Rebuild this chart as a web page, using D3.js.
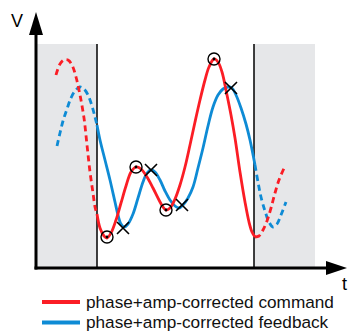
<!DOCTYPE html>
<html lang="en">
<head>
<meta charset="utf-8">
<title>phase+amp-corrected command / feedback</title>
<script src="https://cdn.jsdelivr.net/npm/d3@7"></script>
<style>
  html, body { margin: 0; padding: 0; background: #fff; }
  svg { display: block; font-family: "Liberation Sans", Arial, Helvetica, sans-serif; }
</style>
</head>
<body>
<div id="chart"></div>
<script>
// time (s) and voltage (V)
var redBefore = [[0.20,1.93],[0.24,2.04],[0.28,2.08],[0.32,2.08],[0.36,2.03],[0.40,1.91],[0.44,1.73],[0.48,1.50],[0.51,1.23],[0.54,0.96],[0.57,0.75],[0.59,0.61],[0.61,0.54]];
var redMain = [[0.61,0.54],[0.64,0.40],[0.68,0.32],[0.71,0.30],[0.75,0.35],[0.80,0.48],[0.85,0.65],[0.90,0.82],[0.95,0.96],[1.00,1.01],[1.05,0.99],[1.11,0.91],[1.17,0.80],[1.23,0.68],[1.27,0.61],[1.30,0.58],[1.34,0.60],[1.39,0.69],[1.44,0.83],[1.49,1.01],[1.54,1.23],[1.59,1.46],[1.64,1.68],[1.69,1.88],[1.73,2.01],[1.78,2.09],[1.82,2.06],[1.86,1.96],[1.91,1.73],[1.95,1.53],[1.99,1.30],[2.04,0.96],[2.09,0.66],[2.13,0.46],[2.16,0.36],[2.19,0.31]];
var redAfter = [[2.19,0.31],[2.23,0.32],[2.27,0.38],[2.31,0.47],[2.35,0.60],[2.39,0.75],[2.43,0.88],[2.49,1.02]];

var blueBefore = [[0.21,1.22],[0.24,1.35],[0.27,1.47],[0.31,1.59],[0.35,1.70],[0.39,1.77],[0.44,1.81],[0.48,1.79],[0.52,1.73],[0.56,1.62],[0.59,1.51],[0.61,1.43]];
var blueMain = [[0.61,1.43],[0.64,1.28],[0.69,1.08],[0.74,0.88],[0.79,0.66],[0.82,0.53],[0.85,0.44],[0.88,0.41],[0.92,0.44],[0.97,0.54],[1.02,0.70],[1.07,0.86],[1.11,0.95],[1.15,0.98],[1.19,0.96],[1.24,0.88],[1.29,0.77],[1.34,0.68],[1.39,0.62],[1.43,0.60],[1.47,0.63],[1.52,0.70],[1.57,0.81],[1.62,1.00],[1.67,1.20],[1.72,1.42],[1.77,1.61],[1.82,1.73],[1.87,1.79],[1.92,1.81],[1.96,1.80],[2.00,1.73],[2.05,1.60],[2.10,1.44],[2.14,1.28],[2.19,1.03]];
var blueAfter = [[2.19,1.03],[2.22,0.86],[2.25,0.71],[2.29,0.57],[2.33,0.46],[2.37,0.41],[2.41,0.44],[2.45,0.53],[2.50,0.66]];

var commandPeaks = [[0.71,0.31],[1.00,1.01],[1.30,0.58],[1.78,2.09]];
var feedbackPeaks = [[0.87,0.40],[1.15,0.98],[1.46,0.63],[1.95,1.80]];

var shaded = [[0, 0.61], [2.18, 2.79]];
var shadeTop = 2.24;
var legendLabels = ["phase+amp-corrected command", "phase+amp-corrected feedback"];

var W = 348, H = 333;
var red = "#fb1d25", blue = "#0e8bd5";

var x = d3.scaleLinear().domain([0, 3.11]).range([36, 347]);
var y = d3.scaleLinear().domain([0, 2.56]).range([268, 12]);

var svg = d3.select("#chart").append("svg")
  .attr("width", W).attr("height", H);

// grey regions outside the window
svg.selectAll("rect.shade").data(shaded).enter().append("rect")
  .attr("class", "shade")
  .attr("x", d => x(d[0]))
  .attr("y", y(shadeTop))
  .attr("width", d => x(d[1]) - x(d[0]))
  .attr("height", y(0) - y(shadeTop))
  .attr("fill", "#e6e7e9");

svg.selectAll("line.edge").data([shaded[0][1], shaded[1][0]]).enter().append("line")
  .attr("class", "edge")
  .attr("x1", d => x(d)).attr("x2", d => x(d))
  .attr("y1", y(shadeTop)).attr("y2", y(0))
  .attr("stroke", "#000").attr("stroke-width", 1.5);

var line = d3.line()
  .x(d => x(d[0])).y(d => y(d[1]))
  .curve(d3.curveCatmullRom.alpha(0.5));

function curve(data, color, dashed) {
  svg.append("path")
    .attr("d", line(data))
    .attr("fill", "none")
    .attr("stroke", color)
    .attr("stroke-width", 2.8)
    .attr("stroke-dasharray", dashed ? "6,4" : null);
}

curve(blueBefore, blue, true);
curve(blueAfter, blue, true);
curve(redBefore, red, true);
curve(redAfter, red, true);
curve(blueMain, blue, false);
curve(redMain, red, false);

// circles on command extremes
var cg = svg.append("g");
cg.selectAll("circle.ring").data(commandPeaks).enter().append("circle")
  .attr("cx", d => x(d[0])).attr("cy", d => y(d[1])).attr("r", 6)
  .attr("fill", "none").attr("stroke", "#000").attr("stroke-width", 1.4);
cg.selectAll("circle.dot").data(commandPeaks).enter().append("circle")
  .attr("cx", d => x(d[0])).attr("cy", d => y(d[1])).attr("r", 1.4)
  .attr("fill", "#000");

// crosses on feedback extremes
var s = 6;
svg.selectAll("path.cross").data(feedbackPeaks).enter().append("path")
  .attr("d", d => {
    var cx = x(d[0]), cy = y(d[1]);
    return "M" + (cx - s) + "," + (cy - s) + "L" + (cx + s) + "," + (cy + s) +
           "M" + (cx - s) + "," + (cy + s) + "L" + (cx + s) + "," + (cy - s);
  })
  .attr("stroke", "#000").attr("stroke-width", 1.6).attr("fill", "none");

// axes with arrow heads
var x0 = x(0), y0 = y(0);
svg.append("line")
  .attr("x1", x0).attr("x2", x0).attr("y1", y0 + 1.5).attr("y2", y(2.56) + 18)
  .attr("stroke", "#000").attr("stroke-width", 3);
svg.append("line")
  .attr("x1", x0 - 1.5).attr("x2", x(3.11) - 18).attr("y1", y0).attr("y2", y0)
  .attr("stroke", "#000").attr("stroke-width", 3);
svg.append("path")
  .attr("d", "M" + x0 + "," + y(2.56) + "L" + (x0 + 7) + "," + (y(2.56) + 23) + "L" + (x0 - 7) + "," + (y(2.56) + 23) + "Z")
  .attr("fill", "#000");
svg.append("path")
  .attr("d", "M" + x(3.11) + "," + y0 + "L" + (x(3.11) - 21) + "," + (y0 - 7) + "L" + (x(3.11) - 21) + "," + (y0 + 7) + "Z")
  .attr("fill", "#000");

svg.append("text").attr("x", 11).attr("y", 27)
  .attr("font-size", 18).text("V");
svg.append("text").attr("x", 342).attr("y", 290)
  .attr("font-size", 18).text("t");

// legend
var lg = svg.selectAll("g.leg").data(legendLabels).enter().append("g")
  .attr("class", "leg")
  .attr("transform", (d, i) => "translate(0," + (302 + i * 20.5) + ")");
lg.append("line")
  .attr("x1", 42).attr("x2", 80)
  .attr("stroke", (d, i) => i === 0 ? red : blue)
  .attr("stroke-width", 4);
lg.append("text")
  .attr("x", 86).attr("y", 5.5)
  .attr("font-size", 17.2).attr("fill", "#111")
  .text(d => d);
</script>
</body>
</html>
